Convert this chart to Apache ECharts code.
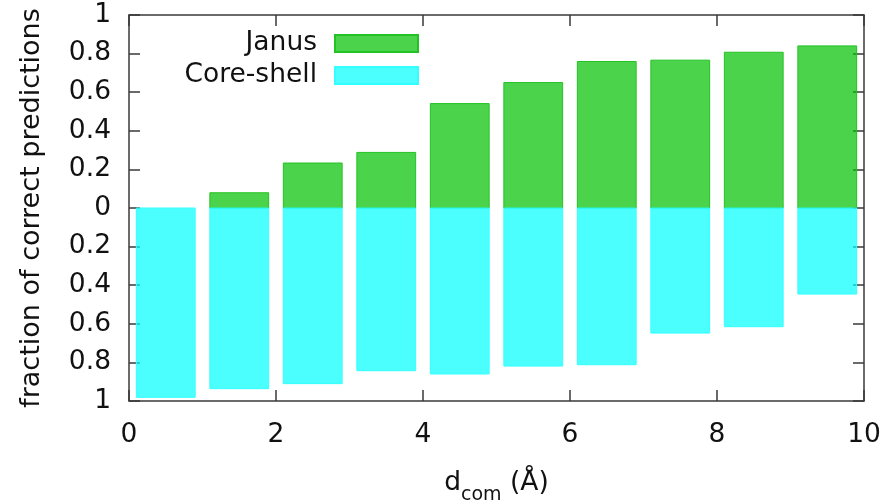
<!DOCTYPE html>
<html>
<head>
<meta charset="utf-8">
<title>fraction of correct predictions</title>
<script src="https://cdn.jsdelivr.net/npm/echarts@6/dist/echarts.min.js"></script>
<style>
  html, body { margin: 0; padding: 0; background: #fff; }
  #chart { width: 892px; height: 503px; }
</style>
</head>
<body>
<div id="chart"></div>
<script>
// bin centres of d_com (Å)
var binCentres = [0.5, 1.5, 2.5, 3.5, 4.5, 5.5, 6.5, 7.5, 8.5, 9.5];
// fraction of correct predictions per bin
var janus = [0, 0.079, 0.233, 0.288, 0.541, 0.650, 0.759, 0.766, 0.807, 0.840];
var coreShell = [0.981, 0.936, 0.910, 0.843, 0.860, 0.819, 0.812, 0.648, 0.615, 0.446];
var xTicks = [0, 2, 4, 6, 8, 10];
var yTicks = [-1, -0.8, -0.6, -0.4, -0.2, 0, 0.2, 0.4, 0.6, 0.8, 1];

var barHalf = 0.4;
var font = "DejaVu Sans";
var fs = 26.5;
var ink = "#111";
var frame = "#3a3a3a";

var chart = echarts.init(document.getElementById("chart"));

function barItem(params, api) {
  var x = api.value(0);
  var v = api.value(1);
  if (!v) return null;
  var p0 = api.coord([x - barHalf, 0]);
  var p1 = api.coord([x + barHalf, v]);
  return {
    type: "rect",
    shape: {
      x: p0[0],
      y: Math.min(p0[1], p1[1]),
      width: p1[0] - p0[0],
      height: Math.abs(p1[1] - p0[1])
    },
    style: api.style()
  };
}

var xBase = {
  type: "value",
  min: xTicks[0],
  max: xTicks[xTicks.length - 1],
  interval: 2,
  splitLine: { show: false },
  axisLine: { show: true, onZero: false, lineStyle: { color: frame, width: 1.5 } },
  axisTick: { show: true, inside: true, length: 11, lineStyle: { color: frame, width: 1.5 } }
};
var yBase = {
  type: "value",
  min: yTicks[0],
  max: yTicks[yTicks.length - 1],
  interval: 0.2,
  splitLine: { show: false },
  axisLine: { show: true, onZero: false, lineStyle: { color: frame, width: 1.5 } },
  axisTick: { show: true, inside: true, length: 11, lineStyle: { color: frame, width: 1.5 } }
};

var option = {
  animation: false,
  textStyle: { fontFamily: font },
  grid: { left: 129, right: 28, top: 15, bottom: 102, containLabel: false, outerBoundsMode: "none" },
  legend: {
    orient: "vertical",
    align: "right",
    right: 473,
    top: 30,
    padding: 0,
    itemWidth: 83,
    itemHeight: 17,
    itemGap: 5,
    icon: "rect",
    textStyle: { fontFamily: font, fontSize: fs, color: ink, padding: [0, 13, 0, 0] },
    data: ["Janus", "Core-shell"]
  },
  xAxis: [
    Object.assign({}, xBase, {
      position: "bottom",
      axisLabel: { show: true, fontSize: fs, color: ink, margin: 21, fontFamily: font },
      name: "{d|d}{s|com}{d| (Å)}",
      nameLocation: "middle",
      nameGap: 69,
      nameTextStyle: {
        fontFamily: font, fontSize: fs, color: ink,
        rich: {
          d: { fontFamily: font, fontSize: fs, color: ink, verticalAlign: "top" },
          s: { fontFamily: font, fontSize: 19, color: ink, verticalAlign: "top", padding: [16, 0, 0, 0] }
        }
      }
    }),
    Object.assign({}, xBase, { position: "top", axisLabel: { show: false } })
  ],
  yAxis: [
    Object.assign({}, yBase, {
      position: "left",
      axisLabel: {
        show: true, fontSize: fs, color: ink, margin: 18, fontFamily: font,
        formatter: function (v) { return String(Math.abs(Math.round(v * 10) / 10)); }
      },
      name: "fraction of correct predictions",
      nameLocation: "middle",
      nameGap: 84,
      nameTextStyle: { fontFamily: font, fontSize: 27, color: ink }
    }),
    Object.assign({}, yBase, { position: "right", axisLabel: { show: false } })
  ],
  series: [
    {
      name: "Janus",
      type: "custom",
      renderItem: barItem,
      itemStyle: { color: "rgba(0,192,0,0.7)", borderColor: "#22c322", borderWidth: 1 },
      encode: { x: 0, y: 1 },
      data: binCentres.map(function (x, i) { return [x, janus[i]]; })
    },
    {
      name: "Core-shell",
      type: "custom",
      renderItem: barItem,
      itemStyle: { color: "rgba(0,255,255,0.7)", borderColor: "#33ffff", borderWidth: 1 },
      encode: { x: 0, y: 1 },
      data: binCentres.map(function (x, i) { return [x, -coreShell[i]]; })
    }
  ]
};

chart.setOption(option);
window.addEventListener("resize", function () { chart.resize(); });
</script>
</body>
</html>
